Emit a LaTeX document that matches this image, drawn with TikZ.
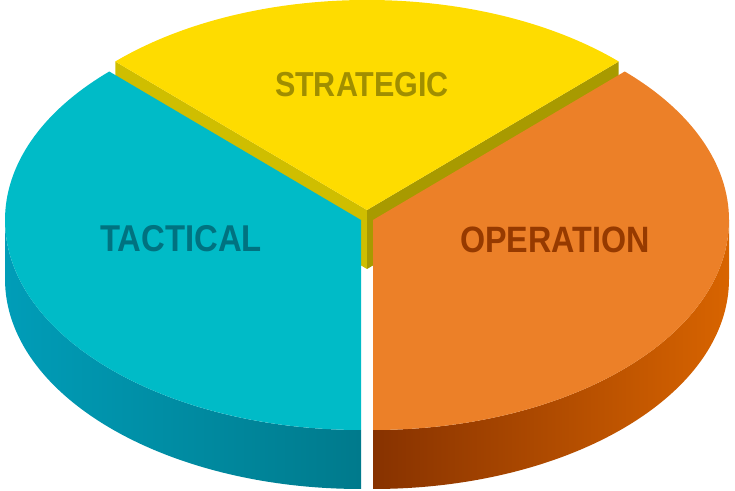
\documentclass[tikz,border=0pt]{standalone}
\usepackage{fontspec}
\newfontfamily\labelfont[FakeStretch=0.88]{Liberation Sans}
\definecolor{yeltop}{RGB}{254,220,0}
\definecolor{yelsideA}{RGB}{207,190,0}
\definecolor{yelsideB}{RGB}{168,154,0}
\definecolor{yeltext}{RGB}{160,142,0}
\definecolor{tealtop}{RGB}{0,187,199}
\definecolor{tealsideA}{RGB}{0,157,184}
\definecolor{tealsideB}{RGB}{0,122,140}
\definecolor{tealtext}{RGB}{0,114,128}
\definecolor{ortop}{RGB}{236,128,40}
\definecolor{orsideA}{RGB}{135,50,0}
\definecolor{orsideB}{RGB}{216,100,0}
\definecolor{ortext}{RGB}{150,58,0}
\usetikzlibrary{positioning}

\begin{document}
\begin{tikzpicture}[x=0.75pt,y=0.75pt,
	lbl/.style={font=\labelfont\bfseries\fontsize{#1}{#1}\selectfont,anchor=base,inner sep=0pt},
	lbl/.default=26]
	\useasboundingbox (0,0) rectangle (735,491);

	\coordinate (yc) at (367,281);
	\coordinate (yb) at (367,222);
	\coordinate (tc) at (361,271);
	\coordinate (oc) at (373,271);

	% strategic slice
	\fill[yelsideA] (yc) -- ++(135:356 and 210) -- ++(0,-59) -- (yb) -- cycle;
	\fill[yelsideB] (yc) -- ++(45:356 and 210) -- ++(0,-59) -- (yb) -- cycle;
	\fill[yeltop] (yc) -- ++(45:356 and 210) arc (45:135:356 and 210) -- cycle;

	% tactical slice
	\shade[left color=tealsideA,right color=tealsideB] (tc) ++(180:356 and 210)
		arc (180:270:356 and 210) -- ++(0,-59) arc (270:180:356 and 210) -- cycle;
	\fill[tealtop] (tc) -- ++(135:356 and 210) arc (135:270:356 and 210) -- cycle;

	% operation slice
	\shade[left color=orsideA,right color=orsideB] (oc) ++(270:356 and 210)
		arc (270:360:356 and 210) -- ++(0,-59) arc (360:270:356 and 210) -- cycle;
	\fill[ortop] (oc) -- ++(-90:356 and 210) arc (-90:45:356 and 210) -- cycle;

	\node[lbl,text=yeltext]      (strat) at (362,394) {STRATEGIC};
	\node[lbl=28,text=tealtext]  (tact)  at (181,239) {TACTICAL};
	\node[lbl=27.5,text=ortext]  (oper)  at (555,238) {OPERATION};
\end{tikzpicture}
\end{document}
